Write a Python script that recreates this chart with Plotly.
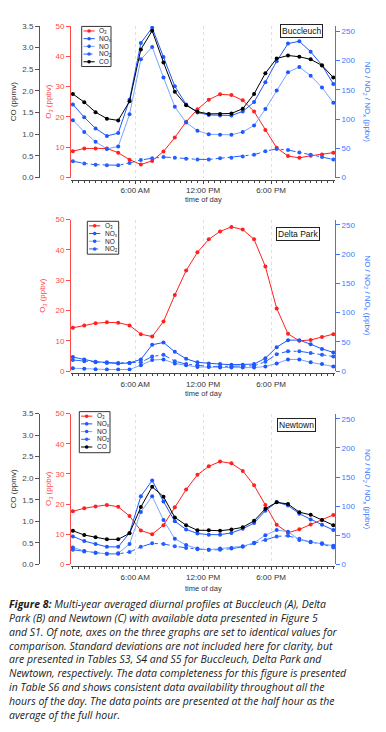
import plotly.graph_objects as go

W, H = 386, 732

# ---------------- data ----------------
hours = [0.5, 1.5, 2.5, 3.5, 4.5, 5.5, 6.5, 7.5, 8.5, 9.5, 10.5, 11.5,
         12.5, 13.5, 14.5, 15.5, 16.5, 17.5, 18.5, 19.5, 20.5, 21.5, 22.5, 23.5]

# Buccleuch (A)
buc_o3 = [8.7, 9.6, 9.6, 9.6, 8.2, 5.9, 4.3, 5.5, 8.6, 13.2, 18.4, 22.5,
          25.7, 27.5, 27.2, 25.5, 21.8, 15.7, 9.8, 7.1, 6.5, 7.2, 7.6, 8.2]
buc_nox = [125, 103, 84, 71, 76, 133, 230, 256, 206, 156, 125, 111,
           107, 106, 106, 113, 129, 163, 199, 229, 233, 215, 192, 160]
buc_no = [98, 78, 61, 49, 53, 108, 202, 223, 171, 121, 94, 80,
          74, 73, 73, 78, 89, 117, 149, 180, 189, 174, 154, 128]
buc_no2 = [28, 24, 22, 21, 21, 25, 30, 33, 35, 34, 32, 31,
           31, 33, 34, 36, 39, 45, 49, 47, 43, 39, 35, 31]
buc_co = [1.93, 1.74, 1.51, 1.36, 1.32, 1.76, 2.96, 3.39, 2.66, 1.98, 1.67, 1.52,
          1.47, 1.47, 1.48, 1.59, 1.93, 2.41, 2.75, 2.82, 2.79, 2.73, 2.59, 2.31]

# Delta Park (B)
dp_o3 = [14.3, 15.1, 15.8, 16.1, 16.0, 15.1, 12.2, 11.4, 16.4, 25.1, 33.2, 39.2,
         43.5, 46.1, 47.6, 46.7, 43.5, 34.5, 20.7, 12.3, 10.0, 10.3, 11.3, 12.2]
dp_nox = [24, 20, 16, 15, 13, 14, 20, 45, 49, 33, 21, 15,
          13, 12, 11, 11, 12, 22, 41, 53, 53, 46, 38, 32]
dp_no = [5, 4, 3.4, 2.8, 2.8, 2.8, 10, 19, 20, 13, 10, 7,
         7, 6, 6, 6, 6, 8, 13, 20, 20, 15, 12, 8]
dp_no2 = [19, 17, 15, 14, 14, 14, 15, 25, 28, 17, 12, 10,
          8, 8, 8, 8, 9, 16, 29, 34, 34, 31, 28, 25]

# Newtown (C)
nt_o3 = [17.6, 18.6, 19.2, 19.7, 19.1, 16.0, 11.2, 10.0, 13.0, 18.9, 24.8, 29.7,
         32.5, 34.1, 33.5, 31.0, 26.2, 19.7, 13.1, 10.5, 11.6, 13.2, 14.7, 16.4]
nt_nox = [48, 40, 35, 30, 30, 54, 117, 144, 108, 74, 60, 53,
          51, 51, 54, 61, 71, 92, 107, 101, 87, 77, 68, 59]
nt_no = [29, 23, 20, 18, 19, 35, 90, 117, 76, 44, 33, 27,
         25, 27, 28, 31, 37, 50, 59, 56, 42, 39, 36, 32]
nt_no2 = [25, 22, 20, 18, 18, 21, 30, 36, 35, 31, 28, 26,
          25, 25, 27, 30, 36, 42, 48, 49, 44, 38, 35, 29]
nt_co = [0.78, 0.68, 0.63, 0.58, 0.58, 0.72, 1.33, 1.80, 1.57, 1.09, 0.91, 0.79,
         0.79, 0.78, 0.81, 0.86, 1.01, 1.29, 1.44, 1.40, 1.21, 1.15, 1.03, 0.91]

time_tickvals = [6, 12, 18]
time_ticktext = ["6:00 AM", "12:00 PM", "6:00 PM"]
o3_ticks = [0, 10, 20, 30, 40, 50]
co_ticks = [0.0, 0.5, 1.0, 1.5, 2.0, 2.5, 3.0, 3.5]
nox_ticks = [0, 50, 100, 150, 200, 250]

# ---------------- style ----------------
C_O3 = "#ff2020"
C_O3_AX = "#ff4a4a"
C_NOX = "#1d57ff"
C_NO = "#79a3ff"
C_NO2 = "#2461ff"
C_NOX_AX = "#3b78ff"
C_CO = "#000000"
C_CO_AX = "#555555"
FONT = "Liberation Sans, Arial, sans-serif"


def px(x):
    return x / W


def py(y):
    return 1 - y / H


fig = go.Figure()

X_DOM = [px(71), px(335)]
X_RANGE = [0.33, 23.65]
minor_vals = [i * 0.5 for i in range(1, 48) if (i * 0.5) not in (6, 12, 18)]

panels = [
    dict(name="Buccleuch", top=22.3, bottom=175.7, xline=177.7, xa="x", o3="y", nox="y2", co="y3",
         data=(buc_o3, buc_nox, buc_no, buc_no2, buc_co), o3_title_x=49,
         box=(301, 27), leg=(81.7, 22.7, 111, 63.3), tod=198.3),
    dict(name="Delta Park", top=218.3, bottom=371.7, xline=373.7, xa="x2", o3="y4", nox="y5", co=None,
         data=(dp_o3, dp_nox, dp_no, dp_no2, None), o3_title_x=43.5,
         box=(297.5, 233), leg=(87.3, 220, 118.7, 253.3), tod=394.5),
    dict(name="Newtown", top=414.7, bottom=567.3, xline=569.5, xa="x3", o3="y6", nox="y7", co="y8",
         data=(nt_o3, nt_nox, nt_no, nt_no2, nt_co), o3_title_x=49,
         box=(296.3, 426.5), leg=(79.3, 412.7, 110, 454.3), tod=591.8),
]

layout = dict(width=W, height=H, margin=dict(l=0, r=0, t=0, b=0),
              paper_bgcolor="white", plot_bgcolor="white", showlegend=False,
              font=dict(family=FONT, size=8, color="#333"))
annotations = []
shapes = []


def axname(a):
    return a.replace("x", "xaxis") if a.startswith("x") else a.replace("y", "yaxis")


for p in panels:
    o3, nox, no, no2, co = p["data"]
    ydom = [py(p["bottom"]), py(p["top"])]
    xa = p["xa"]
    # x axis
    layout[axname(xa)] = dict(
        domain=X_DOM, range=X_RANGE, anchor="free", position=py(p["xline"]),
        showline=True, linecolor="#444", linewidth=1,
        ticks="outside", ticklen=3, tickcolor="#444", tickwidth=1,
        tickmode="array", tickvals=time_tickvals, ticktext=time_ticktext,
        tickfont=dict(size=8, color="#333"),
        showgrid=True, gridcolor="#e0e0e0", griddash="dot", gridwidth=1, zeroline=False,
        minor=dict(tickmode="array", tickvals=minor_vals, ticks="outside", ticklen=2,
                   tickcolor="#444", showgrid=False),
        fixedrange=True)
    # O3 axis
    layout[axname(p["o3"])] = dict(
        domain=ydom, range=[0, 50], anchor=xa, side="left",
        showline=True, linecolor=C_O3_AX, linewidth=1, ticks="outside", ticklen=4,
        tickcolor=C_O3_AX, tickmode="array", tickvals=o3_ticks,
        tickfont=dict(size=8, color=C_O3_AX), showgrid=False, zeroline=False, fixedrange=True)
    # NOx axis
    layout[axname(p["nox"])] = dict(
        overlaying=p["o3"], range=[0, 259], anchor=xa, side="right",
        showline=True, linecolor=C_NOX_AX, linewidth=1, ticks="outside", ticklen=4,
        tickcolor=C_NOX_AX, tickmode="array", tickvals=nox_ticks,
        tickfont=dict(size=8, color=C_NOX_AX), showgrid=False, zeroline=False, fixedrange=True)
    if p["co"]:
        layout[axname(p["co"])] = dict(
            overlaying=p["o3"], range=[0, 3.5], anchor="free", position=px(39), side="left",
            showline=True, linecolor=C_CO_AX, linewidth=1, ticks="outside", ticklen=4,
            tickcolor=C_CO_AX, tickmode="array", tickvals=co_ticks, tickformat=".1f",
            tickfont=dict(size=8, color="#444"), showgrid=False, zeroline=False, fixedrange=True)

    mk = dict(size=4, symbol="circle")
    fig.add_trace(go.Scatter(x=hours, y=o3, xaxis=xa, yaxis=p["o3"], mode="lines+markers", name="O3",
                             line=dict(color=C_O3, width=1), marker=dict(color=C_O3, **mk)))
    fig.add_trace(go.Scatter(x=hours, y=no2, xaxis=xa, yaxis=p["nox"], mode="lines+markers", name="NO2",
                             line=dict(color=C_NO2, width=1, dash="dashdot"), marker=dict(color=C_NO2, **mk)))
    fig.add_trace(go.Scatter(x=hours, y=no, xaxis=xa, yaxis=p["nox"], mode="lines+markers", name="NO",
                             line=dict(color=C_NO, width=1), marker=dict(color=C_NOX, **mk)))
    fig.add_trace(go.Scatter(x=hours, y=nox, xaxis=xa, yaxis=p["nox"], mode="lines+markers", name="NOx",
                             line=dict(color=C_NOX, width=1), marker=dict(color=C_NOX, **mk)))
    if co is not None:
        fig.add_trace(go.Scatter(x=hours, y=co, xaxis=xa, yaxis=p["co"], mode="lines+markers", name="CO",
                                 line=dict(color=C_CO, width=1), marker=dict(color=C_CO, **mk)))

    cy = py((p["top"] + p["bottom"]) / 2)
    # axis titles
    if p["co"]:
        annotations.append(dict(x=px(13.5), y=cy, text="CO (ppmv)", textangle=-90, showarrow=False,
                                xref="paper", yref="paper", xanchor="center", yanchor="middle",
                                font=dict(size=8, color="#333")))
    annotations.append(dict(x=px(p["o3_title_x"]), y=cy, text="O<sub>3</sub> (ppbv)", textangle=-90,
                            showarrow=False, xref="paper", yref="paper", xanchor="center", yanchor="middle",
                            font=dict(size=8, color=C_O3_AX)))
    annotations.append(dict(x=px(367), y=cy, text="NO / NO<sub>2</sub> / NO<sub>x</sub> (ppbv)", textangle=90,
                            showarrow=False, xref="paper", yref="paper", xanchor="center", yanchor="middle",
                            font=dict(size=8, color=C_NOX_AX)))
    annotations.append(dict(x=px(203.3), y=py(p["tod"]), text="time of day", showarrow=False,
                            xref="paper", yref="paper", xanchor="center", yanchor="middle",
                            font=dict(size=7.5, color="#333")))
    # site label box
    annotations.append(dict(x=px(p["box"][0]), y=py(p["box"][1]), text=p["name"], showarrow=False,
                            xref="paper", yref="paper", xanchor="center", yanchor="middle",
                            bordercolor="#222", borderwidth=1, borderpad=1, bgcolor="white",
                            font=dict(size=8.5, color="#111")))
    # legend (drawn as key)
    lx0, ly0, lx1, ly1 = p["leg"]
    shapes.append(dict(type="rect", xref="paper", yref="paper", x0=px(lx0), x1=px(lx1),
                       y0=py(ly1), y1=py(ly0), line=dict(color="#333", width=1), fillcolor="white",
                       layer="above"))
    items = [("O<sub>3</sub>", C_O3, C_O3, "solid"), ("NO<sub>x</sub>", C_NOX, C_NOX, "solid"),
             ("NO", C_NO, C_NOX, "solid"), ("NO<sub>2</sub>", C_NO2, C_NO2, "dashdot")]
    if co is not None:
        items.append(("CO", C_CO, C_CO, "solid"))
    for i, (lab, lc, mc, dash) in enumerate(items):
        yy = ly0 + 4.6 + i * 7.8
        sx0, sx1 = lx0 + 1.8, lx0 + 13
        shapes.append(dict(type="line", xref="paper", yref="paper", x0=px(sx0), x1=px(sx1),
                           y0=py(yy), y1=py(yy), line=dict(color=lc, width=1, dash=dash), layer="above"))
        cx = (sx0 + sx1) / 2
        r = 1.8
        shapes.append(dict(type="circle", xref="paper", yref="paper", x0=px(cx - r), x1=px(cx + r),
                           y0=py(yy + r), y1=py(yy - r), line=dict(color=mc, width=0), fillcolor=mc,
                           layer="above"))
        annotations.append(dict(x=px(lx0 + 15.5), y=py(yy), text=lab, showarrow=False,
                                xref="paper", yref="paper", xanchor="left", yanchor="middle",
                                font=dict(size=6.5, color="#222")))

# caption
caption_lines = [
    "<b>Figure 8:</b> Multi-year averaged diurnal profiles at Buccleuch (A), Delta",
    "Park (B) and Newtown (C) with available data presented in Figure 5",
    "and S1. Of note, axes on the three graphs are set to identical values for",
    "comparison. Standard deviations are not included here for clarity, but",
    "are presented in Tables S3, S4 and S5 for Buccleuch, Delta Park and",
    "Newtown, respectively. The data completeness for this figure is presented",
    "in Table S6 and shows consistent data availability throughout all the",
    "hours of the day. The data points are presented at the half hour as the",
    "average of the full hour.",
]
for i, line in enumerate(caption_lines):
    annotations.append(dict(x=px(7), y=py(607.5 + i * 14), text="<i>" + line + "</i>", showarrow=False,
                            xref="paper", yref="paper", xanchor="left", yanchor="middle",
                            font=dict(family="Open Sans, Noto Sans, sans-serif", size=10.5, color="#1a1a1a")))

layout["annotations"] = annotations
layout["shapes"] = shapes
fig.update_layout(**layout)

fig.write_html("out.html", config={"displayModeBar": False},
               post_script="document.body.style.margin='0';document.body.style.overflow='hidden';")
